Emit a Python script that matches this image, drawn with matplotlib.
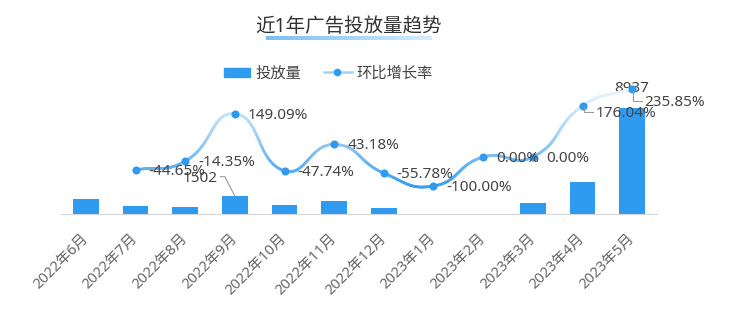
import numpy as np
import matplotlib
matplotlib.use('Agg')
import matplotlib.pyplot as plt
from matplotlib.collections import LineCollection
from matplotlib.colors import LinearSegmentedColormap, Normalize
from matplotlib.patches import Rectangle
from matplotlib.lines import Line2D

plt.rcParams['font.family'] = ['Noto Sans', 'Noto Sans CJK SC', 'DejaVu Sans']

months = ['2022年6月', '2022年7月', '2022年8月', '2022年9月', '2022年10月', '2022年11月',
          '2022年12月', '2023年1月', '2023年2月', '2023年3月', '2023年4月', '2023年5月']
volume = [1272, 704, 603, 1502, 785, 1124, 497, 0, 0, 964, 2661, 8937]
growth = [np.nan, -44.65, -14.35, 149.09, -47.74, 43.18, -55.78, -100.00, 0.00, 0.00, 176.04, 235.85]
shown_volume = ['2022年9月', '2023年5月']

BLUE = '#2e9bf0'
TXT = '#444444'
W, H = 737, 323

fig = plt.figure(figsize=(W / 100, H / 100), dpi=100)
ax = fig.add_axes([61 / W, 1 - 214 / H, 596 / W, 134 / H])
x = np.arange(len(months))
ax.bar(x, volume, width=0.52, color=BLUE, zorder=2)
ax.set_xlim(-0.5, len(months) - 0.5)
ax.set_ylim(0, 134 / 0.01186)
for s in ['top', 'right', 'left']:
    ax.spines[s].set_visible(False)
ax.spines['bottom'].set_color('#d6d6d6')
ax.set_yticks([])
ax.set_xticks(x)
ax.set_xticklabels(months, rotation=45, ha='right', va='center', rotation_mode='anchor',
                   fontsize=10.5, color='#666666')
ax.tick_params(axis='x', length=0, pad=16)

ax2 = ax.twinx()
ax2.set_ylim(-57 / 0.29, 77 / 0.29)
ax2.axis('off')

# smooth line (echarts-like bezier, smooth=0.5) computed in pixel space
g = np.array(growth)
ok = ~np.isnan(g)
pts = ax2.transData.transform(np.column_stack([x[ok], g[ok]]))
n = len(pts)
cps = []
for i in range(n):
    prev = pts[max(i - 1, 0)]
    nxt = pts[min(i + 1, n - 1)]
    v = (nxt - prev) * 0.5
    d0 = np.hypot(*(pts[i] - prev))
    d1 = np.hypot(*(nxt - pts[i]))
    r = d1 / (d0 + d1)
    cps.append((pts[i] - v * (1 - r), pts[i] + v * r))
t = np.linspace(0, 1, 40)[1:, None]
curve = [pts[0]]
for i in range(n - 1):
    p0, c1, c2, p3 = pts[i], cps[i][1], cps[i + 1][0], pts[i + 1]
    b = (1 - t) ** 3 * p0 + 3 * (1 - t) ** 2 * t * c1 + 3 * (1 - t) * t ** 2 * c2 + t ** 3 * p3
    curve.extend(b)
curve = ax2.transData.inverted().transform(np.array(curve))
segs = np.stack([curve[:-1], curve[1:]], axis=1)
cmap = LinearSegmentedColormap.from_list('g', ['#3a9ef0', '#9fd0f6', '#eef7fe'])
norm = Normalize(-100, 240)
lc = LineCollection(segs, colors=cmap(norm(segs[:, :, 1].mean(axis=1))), linewidths=2.0,
                    capstyle='round', zorder=3)
ax2.add_collection(lc)
ax2.scatter(x[ok], g[ok], s=34, color=BLUE, zorder=4, linewidths=0)

to_px = ax2.transData.transform
to_data = ax2.transData.inverted().transform


def leader(points):
    d = to_data(np.array(points))
    ax2.plot(d[:, 0], d[:, 1], color='#9a9a9a', lw=0.8, zorder=5)


# growth labels
for i in np.where(ok)[0]:
    px, py = to_px((x[i], g[i]))
    dx, dy = 13, -1.5
    if months[i] == '2023年4月':
        dx, dy = 13, -7.5
        leader([(px + 1, py - 1), (px + 1, py - 6.5), (px + 10.5, py - 6.5)])
    if months[i] == '2023年5月':
        dx, dy = 12, -13.5
        leader([(px + 0.5, py - 2), (px + 0.5, py - 12), (px + 9.5, py - 12)])
    ax2.annotate(f'{g[i]:.2f}%', (x[i], g[i]), xytext=(dx, dy), textcoords='offset pixels',
                 ha='left', va='center', fontsize=11, color=TXT, zorder=6)

# bar labels
for i, m in enumerate(months):
    if m not in shown_volume:
        continue
    bx, by = ax.transData.transform((x[i], volume[i]))
    if m == '2022年9月':
        d = ax.transData.inverted().transform(np.array([(bx, by), (bx - 10, by + 19.5), (bx - 14.5, by + 19.5)]))
        ax.plot(d[:, 0], d[:, 1], color='#9a9a9a', lw=0.8, zorder=5)
        ax.annotate(str(volume[i]), (x[i], volume[i]), xytext=(-17.5, 17.5), textcoords='offset pixels',
                    ha='right', va='center', fontsize=11, color=TXT, zorder=6, annotation_clip=False)
    else:
        ax.annotate(str(volume[i]), (x[i], volume[i]), xytext=(0, 20), textcoords='offset pixels',
                    ha='center', va='center', fontsize=11, color=TXT, zorder=6, annotation_clip=False)

# title with highlight underline
hl = fig.add_axes([266 / W, 1 - 40 / H, 166 / W, 4 / H])
hl.imshow(np.linspace(0, 1, 200)[None, :], aspect='auto',
          cmap=LinearSegmentedColormap.from_list('h', ['#7cbff5', '#a7d4f8', '#d7ecfc']))
hl.axis('off')
fig.text(349 / W, 1 - 27 / H, '近1年广告投放量趋势', ha='center', va='center', fontsize=14, color='#333333')

# legend
fig.patches.append(Rectangle((224 / W, 1 - 77 / H), 26 / W, 9.5 / H, transform=fig.transFigure,
                             color=BLUE, figure=fig))
fig.text(255 / W, 1 - 74.5 / H, '投放量', ha='left', va='center', fontsize=11, color=TXT)
fig.lines.append(Line2D([324 / W, 352 / W], [1 - 71.5 / H] * 2, transform=fig.transFigure,
                        color='#a4d2f6', lw=1.8, figure=fig))
fig.lines.append(Line2D([337 / W], [1 - 71.5 / H], transform=fig.transFigure, marker='o',
                        markersize=5.5, color=BLUE, mec='none', figure=fig))
fig.text(356 / W, 1 - 74.5 / H, '环比增长率', ha='left', va='center', fontsize=11, color=TXT)

fig.savefig('out.png', dpi=100)
